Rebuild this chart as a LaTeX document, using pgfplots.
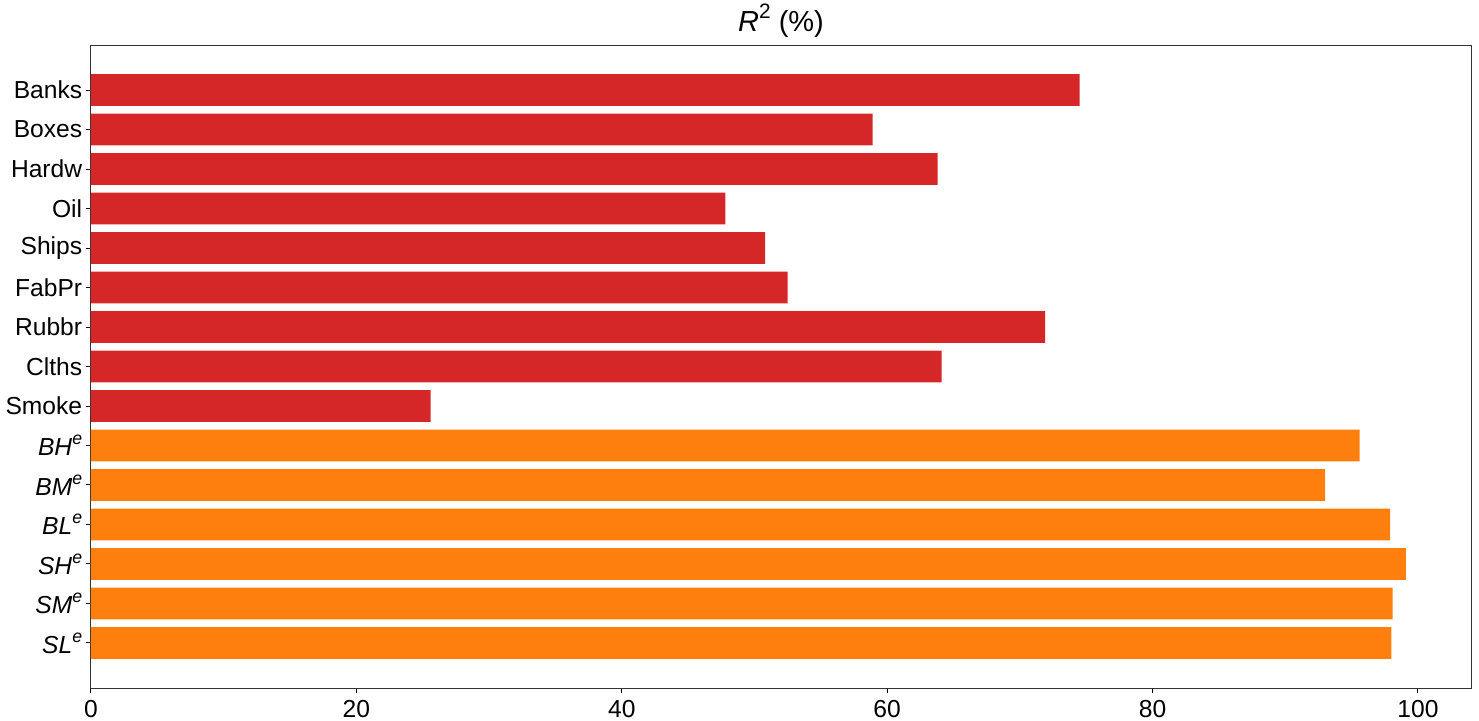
\documentclass[border=0pt]{standalone}
\usepackage{pgfplots}
\pgfplotsset{compat=1.18}
\usepackage{fontspec}
\setmainfont{Liberation Sans}
\definecolor{tred}{HTML}{D62728}
\definecolor{torange}{HTML}{FF7F0E}
\newcommand{\sups}[1]{\raisebox{0.45em}{\scalebox{0.72}{#1}}}
\newcommand{\lab}[1]{\textit{#1}\sups{\textit{e}}}
\begin{document}
\begin{tikzpicture}
\begin{axis}[
  at={(0,0)}, anchor=south west,
  scale only axis,
  width=690pt, height=321.5pt,
  xbar, bar width=0.8, bar shift=0pt,
  xmin=0, xmax=104,
  ymin=-1.14, ymax=15.14,
  ytick={0,...,14},
  yticklabels={\lab{SL},\lab{SM},\lab{SH},\lab{BL},\lab{BM},\lab{BH},Smoke,Clths,Rubbr,FabPr,Ships,Oil,Hardw,Boxes,Banks},
  xtick={0,20,40,60,80,100},
  tick align=outside,
  tick pos=left,
  major tick length=2.4pt,
  axis line style={line width=0.5pt, black!80},
  tick style={line width=0.5pt, black},
  /pgf/number format/assume math mode=true,
  tick label style={font=\fontsize{12.3}{13}\selectfont},
  yticklabel style={xshift=1.5pt},
  title={\textit{R}\sups{2} (\%)},
  title style={font=\fontsize{14.5}{15}\selectfont, yshift=-6pt},
]
\addplot[draw=none, fill=tred] coordinates {
(25.6,6) (64.1,7) (71.9,8) (52.5,9) (50.8,10) (47.8,11) (63.8,12) (58.9,13) (74.5,14)
};
\addplot[draw=none, fill=torange] coordinates {
(98.0,0) (98.1,1) (99.1,2) (97.9,3) (93.0,4) (95.6,5)
};
\end{axis}
\pgfresetboundingbox
\path (-45.5pt,-16pt) rectangle (694pt,344pt);
\end{tikzpicture}
\end{document}
